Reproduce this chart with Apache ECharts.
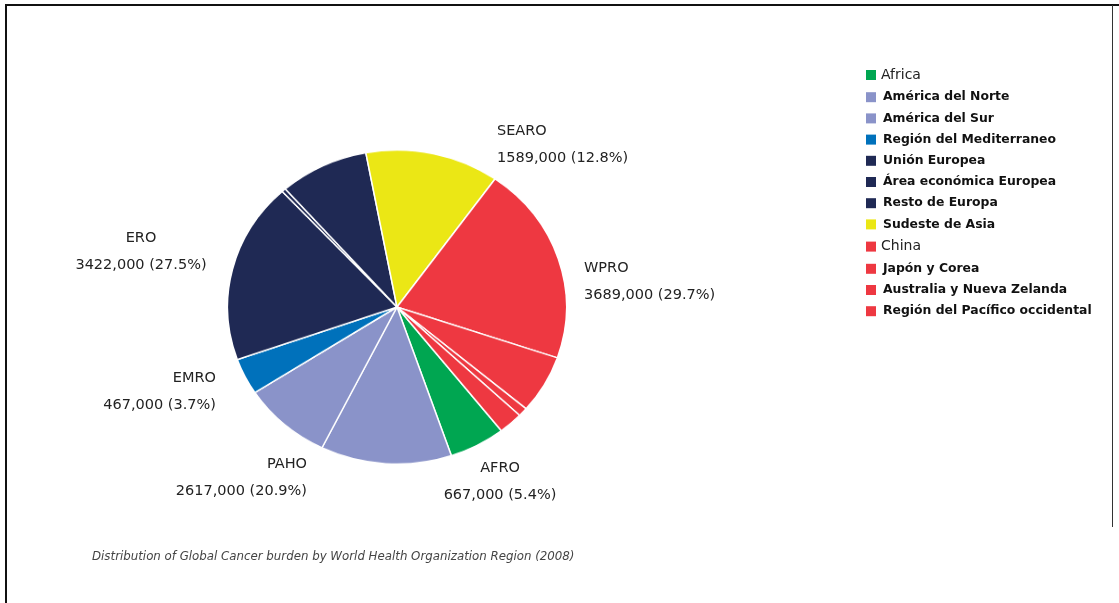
<!DOCTYPE html>
<html>
<head>
<meta charset="utf-8">
<script src="https://cdn.jsdelivr.net/npm/echarts@6/dist/echarts.min.js"></script>
<style>
  html, body { margin: 0; padding: 0; background: #fff; }
  #stage { position: relative; width: 1119px; height: 603px; overflow: hidden; }
  #main { position: absolute; left: 0; top: 0; width: 1119px; height: 603px; }
  /* the pie is drawn slightly flattened, as an ellipse */
  #pie { position: absolute; left: 222px; top: 132px; width: 350px; height: 350px;
         transform-origin: 50% 50%; transform: scaleY(0.9263); }
</style>
</head>
<body>
<div id="stage">
  <div id="main"></div>
  <div id="pie"></div>
</div>
<script>
// Sub-regions, in drawing order (clockwise)
const regions = [
  'Africa', 'América del Norte', 'América del Sur', 'Región del Mediterraneo',
  'Unión Europea', 'Área económica Europea', 'Resto de Europa', 'Sudeste de Asia',
  'China', 'Japón y Corea', 'Australia y Nueva Zelanda', 'Región del Pacífico occidental'
];
// New cancer cases, 2008
const cases = [
  667000, 1556000, 1061000, 467000,
  2315000, 48000, 1059000, 1589000,
  2544000, 743000, 113000, 289000
];
// WHO region each sub-region belongs to (index into whoRegions)
const regionGroup = [0, 1, 1, 2, 3, 3, 3, 4, 5, 5, 5, 5];
const whoRegions = ['AFRO', 'PAHO', 'EMRO', 'ERO', 'SEARO', 'WPRO'];
const whoShares = [5.4, 20.9, 3.7, 27.5, 12.8, 29.7];

const regionColors = [
  '#00a651', '#8a93c9', '#8a93c9', '#0071bb',
  '#1f2954', '#1f2954', '#1f2954', '#ebe715',
  '#ee3841', '#ee3841', '#ee3841', '#ee3841'
];
const plainLegendNames = ['Africa', 'China'];

// where each WHO region label sits on the page
const labelAnchors = [
  { x: 500, y: 468, align: 'center' },
  { x: 307, y: 464, align: 'right' },
  { x: 216, y: 378, align: 'right' },
  { x: 141, y: 238, align: 'center' },
  { x: 497, y: 131, align: 'left' },
  { x: 584, y: 268, align: 'left' }
];

const sliceData = regions.map((name, i) => ({ name: name, value: cases[i] }));

// totals per WHO region
const groupTotals = whoRegions.map((_, g) =>
  cases.reduce((s, v, i) => s + (regionGroup[i] === g ? v : 0), 0));

function fmtThousands(v) { return Math.round(v / 1000) + ',000'; }

const labelFont = 'DejaVu Sans, Verdana, sans-serif';
const labelGraphics = [];
whoRegions.forEach((name, g) => {
  const a = labelAnchors[g];
  labelGraphics.push({
    type: 'text', x: a.x, y: a.y, silent: true,
    style: { text: name, fill: '#222', font: '14.5px ' + labelFont,
             textAlign: a.align, textVerticalAlign: 'middle' }
  });
  labelGraphics.push({
    type: 'text', x: a.x, y: a.y + 27, silent: true,
    style: { text: fmtThousands(groupTotals[g]) + ' (' + whoShares[g].toFixed(1) + '%)',
             fill: '#222', font: '14.5px ' + labelFont,
             textAlign: a.align, textVerticalAlign: 'middle' }
  });
});

// page frame
const frameGraphics = [
  { type: 'line', silent: true, shape: { x1: 5, y1: 5, x2: 1119, y2: 5 },
    style: { stroke: '#111', lineWidth: 2 } },
  { type: 'line', silent: true, shape: { x1: 6, y1: 5, x2: 6, y2: 603 },
    style: { stroke: '#111', lineWidth: 2 } },
  { type: 'line', silent: true, shape: { x1: 1112.5, y1: 5, x2: 1112.5, y2: 527 },
    style: { stroke: '#333', lineWidth: 1 } }
];

const captionGraphic = {
  type: 'text', x: 92, y: 557, silent: true,
  style: { text: 'Distribution of Global Cancer burden by World Health Organization Region (2008)',
           fill: '#444', font: 'italic 11.8px ' + labelFont, textVerticalAlign: 'middle' }
};

const main = echarts.init(document.getElementById('main'), null, { renderer: 'canvas' });
main.setOption({
  animation: false,
  color: regionColors,
  legend: {
    orient: 'vertical', left: 861, top: 63,
    icon: 'rect', itemWidth: 10, itemHeight: 10, itemGap: 9.2,
    data: regions,
    formatter: function (name) {
      return (plainLegendNames.indexOf(name) >= 0 ? '{p|' : '{b|') + name + '}';
    },
    textStyle: {
      rich: {
        p: { fontFamily: labelFont, fontSize: 14, color: '#222', lineHeight: 14 },
        b: { fontFamily: labelFont, fontSize: 12.4, fontWeight: 'bold', color: '#111',
             lineHeight: 14, padding: [0, 0, 0, 2] }
      }
    }
  },
  series: [{
    // carries the legend entries; the visible pie is drawn alongside
    type: 'pie', radius: [0, 0], center: [397, 307], silent: true,
    label: { show: false }, labelLine: { show: false },
    data: sliceData
  }],
  graphic: frameGraphics.concat(labelGraphics, [captionGraphic])
});

const pie = echarts.init(document.getElementById('pie'), null, { renderer: 'canvas' });
pie.setOption({
  animation: false,
  color: regionColors,
  series: [{
    type: 'pie',
    center: ['50%', '50%'],
    radius: 169.5,
    startAngle: -52,
    clockwise: true,
    label: { show: false },
    labelLine: { show: false },
    emphasis: { scale: false },
    itemStyle: { borderColor: '#fff', borderWidth: 1.5 },
    data: sliceData
  }]
});
echarts.connect([main, pie]);
</script>
</body>
</html>
